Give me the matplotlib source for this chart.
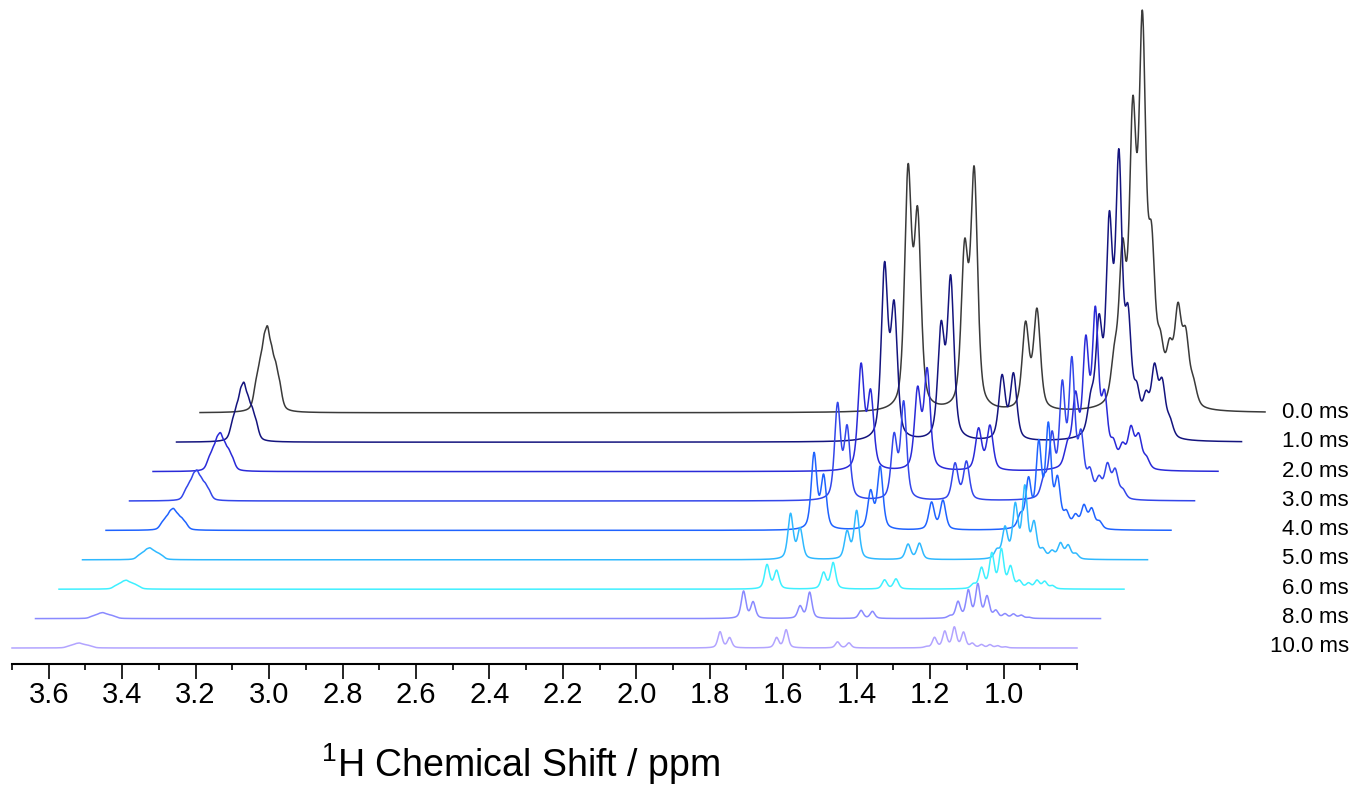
import numpy as np
import matplotlib
matplotlib.use('Agg')
from matplotlib import pyplot as plt

plt.rcParams['font.family'] = ['Liberation Sans', 'DejaVu Sans']
plt.rcParams['mathtext.default'] = 'regular'

# trace labels, top (back) to bottom (front)
labels = ['0.0 ms', '1.0 ms', '2.0 ms', '3.0 ms', '4.0 ms',
          '5.0 ms', '6.0 ms', '8.0 ms', '10.0 ms']
colors = ['#3a3a3a', '#14147e', '#2a2ad8', '#3346ea', '#1f63ff',
          '#2fb9ff', '#3ef0ff', '#8a8aff', '#b2a4ff']

# line half widths (ppm) per trace
half_width = [0.011, 0.0105, 0.01, 0.0095, 0.009, 0.0085, 0.008, 0.0075, 0.007]

# multiplet at 3.52 ppm: line positions, relative shape, peak height per trace
a_ppm = [3.548, 3.537, 3.526, 3.516, 3.505, 3.494, 3.483]
a_rel = [0.25, 0.4, 0.6, 0.75, 0.5, 0.4, 0.25]
a_height = [87, 60, 39, 31, 22, 12, 9, 6, 5]

# resolved lines (ppm) and their heights per trace
b_ppm = [1.772, 1.746]
b_height = [[232, 185], [170, 128], [103, 75], [94, 70], [75, 52],
            [45, 30], [24, 18], [27, 16], [16, 10]]
c_ppm = [1.618, 1.592]
c_height = [[152, 232], [108, 158], [78, 98], [62, 96], [37, 62],
            [27, 48], [16, 26], [12, 26], [10, 18]]
d_ppm = [1.452, 1.421]
d_height = [[84, 98], [63, 65], [41, 44], [36, 38], [27, 29],
            [15, 16], [9, 10], [8, 7], [6, 5]]
e_ppm = [1.210, 1.188, 1.160, 1.134, 1.109]
e_height = [[40, 140, 270, 360, 140], [32, 105, 200, 265, 105],
            [20, 68, 120, 150, 65], [18, 60, 108, 132, 58],
            [12, 47, 82, 100, 46], [8, 30, 52, 70, 34],
            [4, 20, 34, 38, 21], [2, 16, 27, 33, 21], [1, 10, 16, 20, 15]]
f_ppm = [1.085, 1.060, 1.037, 1.016, 0.995]
f_height = [[48, 48, 88, 64, 20], [37, 34, 64, 50, 15], [21, 20, 38, 31, 10],
            [24, 18, 32, 27, 8], [14, 12, 22, 19, 7], [8, 7, 15, 13, 5],
            [7, 5, 8, 7, 3], [7, 4, 4, 3, 1], [4, 3, 3, 2, 1]]


def line(x, x0, g):
    # pseudo-voigt, peak value 1
    lor = g**2 / ((x - x0)**2 + g**2)
    gau = np.exp(-np.log(2) * ((x - x0) / g)**2)
    return 0.5 * lor + 0.5 * gau


ppm = np.linspace(3.7, 0.8, 4000)

fig = plt.figure(figsize=(13.56, 7.88), dpi=100)
ax = fig.add_axes([12 / 1356, 124 / 788, 1065 / 1356, 664 / 788])

n = len(labels)
dx = 0.064   # shift to the right per trace (ppm)
dy = 29.4    # shift up per trace
for k in range(n):
    g = half_width[k]
    a = sum(r * line(ppm, p, 0.008) for p, r in zip(a_ppm, a_rel))
    y = a / a.max() * a_height[k]
    for pos, hts in ((b_ppm, b_height), (c_ppm, c_height), (d_ppm, d_height),
                     (e_ppm, e_height), (f_ppm, f_height)):
        for p, h in zip(pos, hts[k]):
            y = y + h * line(ppm, p, g)
    j = n - 1 - k   # position from the front
    ax.plot(ppm - j * dx, y + 16 + j * dy, color=colors[k], lw=1.1,
            clip_on=False, zorder=k)
    fig.text(1349 / 1356, 1 - (412.5 + (8 - j) * 29.3) / 788, labels[k],
             ha='right', va='center', fontsize=16)

ax.set_xlim(3.7, 0.8)
ax.set_ylim(0, 664)
ax.set_xticks(np.arange(3.6, 0.95, -0.2))
ax.set_xticks(np.arange(3.7, 0.75, -0.1), minor=True)
ax.set_xticklabels(['%.1f' % v for v in np.arange(3.6, 0.95, -0.2)])
ax.tick_params(axis='x', which='major', length=11, width=1.2, labelsize=21, pad=1)
ax.tick_params(axis='x', which='minor', length=4.5, width=1.2)
ax.set_yticks([])
for s in ['left', 'right', 'top']:
    ax.spines[s].set_visible(False)
ax.spines['bottom'].set_linewidth(1.5)
ax.patch.set_visible(False)

fig.text(520 / 1356, 1 - 764 / 788, r'$^{1}$H Chemical Shift / ppm',
         ha='center', va='center', fontsize=27)

fig.savefig('out.png', dpi=100)
